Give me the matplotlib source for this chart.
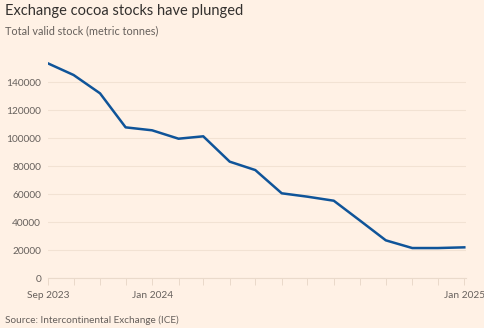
import numpy as np
import pandas as pd
import matplotlib
matplotlib.use("Agg")
import matplotlib.pyplot as plt
import matplotlib.dates as mdates

# monthly total valid stock, Sep 2023 - Jan 2025
months = pd.date_range("2023-09-01", "2025-01-01", freq="MS")
stock = [153300, 145000, 131900, 107600, 105500, 99500, 101200, 83100,
         77100, 60500, 58100, 55200, 40900, 26900, 21400, 21400, 21900]
y_ticks = [0, 20000, 40000, 60000, 80000, 100000, 120000, 140000]
x_labels = ["Sep 2023", "Jan 2024", "Jan 2025"]
x_label_dates = pd.to_datetime(["2023-09-01", "2024-01-01", "2025-01-01"])

bg = "#FFF1E5"
txt = "#66605C"
grid = "#F2E2D3"

plt.rcParams["font.family"] = ["Lato", "DejaVu Sans"]

fig = plt.figure(figsize=(4.85, 3.28), dpi=100, facecolor=bg)
ax = fig.add_axes([48 / 485, 50 / 328, 418 / 485, 224 / 328], facecolor=bg)

ax.plot(months, stock, color="#0F5499", lw=1.8, solid_joinstyle="round")

ax.set_ylim(0, 160000)
pad = pd.Timedelta(days=2)
ax.set_xlim(months[0], months[-1] + pad)

ax.set_yticks(y_ticks)
ax.set_yticklabels([str(v) for v in y_ticks])
ax.tick_params(axis="y", length=0, pad=5, labelsize=7.3, labelcolor=txt)
ax.grid(axis="y", color=grid, lw=0.8)

ax.set_xticks(months, minor=True)
ax.set_xticks(x_label_dates)
ax.set_xticklabels(x_labels)
ax.tick_params(axis="x", which="both", length=5, width=0.6, color="#E6D5C5",
               labelsize=7.3, labelcolor=txt, pad=4)

for s in ["top", "right", "left"]:
    ax.spines[s].set_visible(False)
ax.spines["bottom"].set_color("#EADACB")
ax.spines["bottom"].set_linewidth(0.8)

fig.text(5 / 485, 1 - 11 / 328, "Exchange cocoa stocks have plunged",
         fontsize=10.5, color="#33302E", va="center", ha="left")
fig.text(5 / 485, 1 - 31 / 328, "Total valid stock (metric tonnes)",
         fontsize=7.8, color=txt, va="center", ha="left")
fig.text(5 / 485, 1 - 320 / 328, "Source: Intercontinental Exchange (ICE)",
         fontsize=7.2, color=txt, va="center", ha="left")

fig.savefig("out.png", dpi=100, facecolor=bg)
